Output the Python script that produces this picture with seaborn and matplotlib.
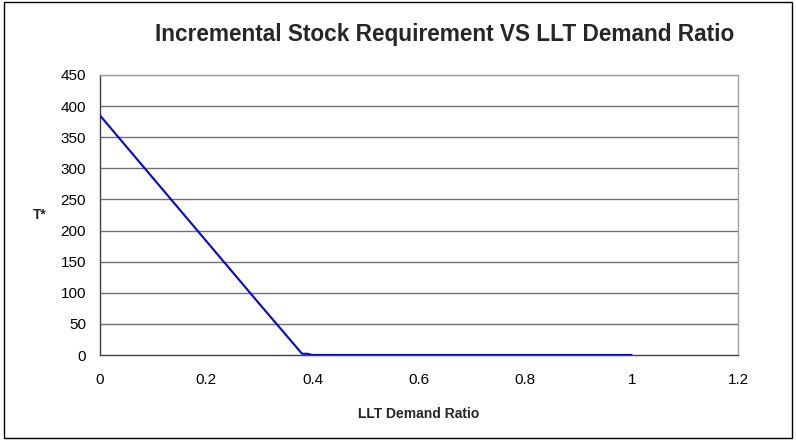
import pandas as pd
import seaborn as sns
import matplotlib.pyplot as plt
from matplotlib.patches import Rectangle

# data
llt_ratio = [0, 0.1, 0.2, 0.3, 0.36, 0.38, 0.39, 0.4, 0.5, 0.6, 0.7, 0.8, 0.9, 1.0]
t_star = [385, 284, 183, 82, 22, 2, 2, 0, 0, 0, 0, 0, 0, 0]
x_ticks = [0, 0.2, 0.4, 0.6, 0.8, 1, 1.2]
x_tick_labels = ["0", "0.2", "0.4", "0.6", "0.8", "1", "1.2"]
y_ticks = [0, 50, 100, 150, 200, 250, 300, 350, 400, 450]

df = pd.DataFrame({"LLT Demand Ratio": llt_ratio, "T*": t_star})

sns.set_style("white")
plt.rcParams["font.family"] = ["Liberation Sans", "DejaVu Sans"]

fig = plt.figure(figsize=(7.96, 4.40), dpi=100)
ax = fig.add_axes([100 / 796, 85 / 440, 638 / 796, 280 / 440])

for y in y_ticks[1:]:
    ax.axhline(y, color="#707070" if y < 450 else "#a0a0a0", lw=1, zorder=1)

sns.lineplot(data=df, x="LLT Demand Ratio", y="T*", ax=ax, color="#0000ff",
             lw=1.5, zorder=3)

ax.set_xlim(0, 1.2)
ax.set_ylim(0, 450)
ax.set_xticks(x_ticks)
ax.set_xticklabels(x_tick_labels)
ax.set_yticks(y_ticks)
ax.tick_params(axis="both", direction="out", length=4, width=1, color="#404040",
               labelsize=11, labelcolor="black", pad=6)
ax.tick_params(axis="x", pad=9)

for side in ["left", "bottom"]:
    ax.spines[side].set_color("#404040")
    ax.spines[side].set_linewidth(1)
for side in ["top", "right"]:
    ax.spines[side].set_color("#a0a0a0")
    ax.spines[side].set_linewidth(1)

ax.set_xlabel("LLT Demand Ratio", fontsize=10, fontweight="bold", labelpad=14)
ax.set_ylabel("T*", fontsize=10, fontweight="bold", rotation=0, labelpad=15, va="center")

fig.text(445 / 796, 1 - 35 / 440, "Incremental Stock Requirement VS LLT Demand Ratio",
         ha="center", va="center", fontsize=16.3, fontweight="bold")

# outer chart border
fig.patches.append(Rectangle((4 / 796, 2 / 440), 788 / 796, 436 / 440,
                             transform=fig.transFigure, fill=False,
                             edgecolor="black", lw=1))

fig.savefig("out.png", dpi=100)
